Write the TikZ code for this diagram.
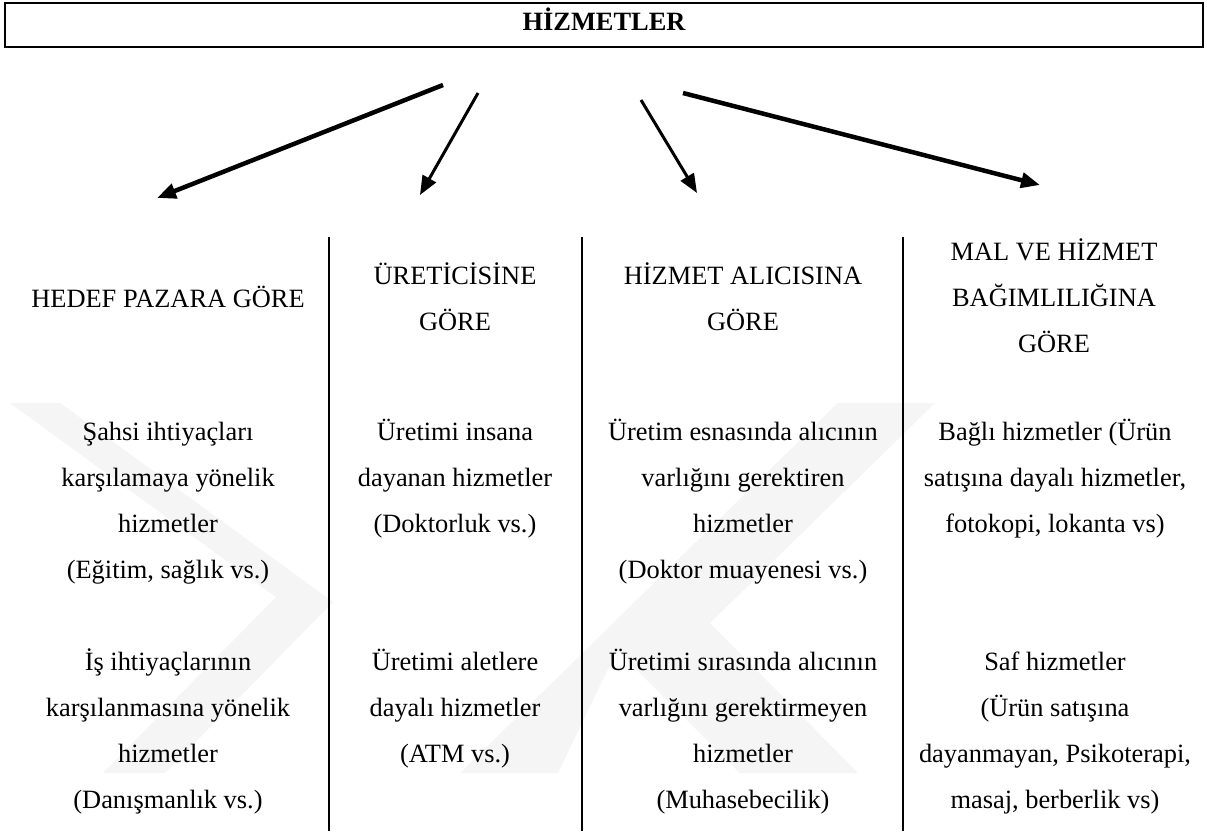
\documentclass[tikz,border=0pt]{standalone}
\usepackage{fontspec}
\setmainfont{Liberation Serif}
\usetikzlibrary{arrows.meta}
\begin{document}
\begin{tikzpicture}[x=1pt,y=-1pt,
  txt/.style={anchor=north,inner sep=0pt,align=center,
    font=\fontsize{26.4}{46}\selectfont},
  titlebox/.style={draw,line width=2.5pt,minimum width=1198pt,minimum height=44pt,
    inner sep=0pt,text height=18pt,text depth=8pt,
    font=\fontsize{26.4}{30}\selectfont\bfseries},
  wm/.style={fill=black!4,draw=none},
  divider/.style={line width=2pt},
  arr/.style={line width=#1,-{Triangle[length=19pt,width=15pt]}},
]
\useasboundingbox (0,0) rectangle (1207,831);
\fill[white] (0,0) rectangle (1207,831);

% faint background emblem
\fill[wm] (10,403) -- (60,403) -- (333,602) -- (165,773) -- (103,773) -- (276,597) -- cycle;
\fill[wm] (838,403) -- (935,403) -- (710,623) -- (858,773) -- (740,773)
  -- (617,650) -- (558,773) -- (460,773) -- cycle;

% title
\node[titlebox] (title) at (604,25) {HİZMETLER};

% arrow end points
\coordinate (s1) at (443,85);  \coordinate (e1) at (157,198);
\coordinate (s2) at (478,93);  \coordinate (e2) at (420,195);
\coordinate (s3) at (641,100); \coordinate (e3) at (697,193);
\coordinate (s4) at (683,93);  \coordinate (e4) at (1040,185);
\draw[arr=4.5pt] (s1) -- (e1);
\draw[arr=3pt] (s2) -- (e2);
\draw[arr=3pt] (s3) -- (e3);
\draw[arr=4.5pt] (s4) -- (e4);

% column separators
\draw[divider] (329,237) -- (329,831);
\draw[divider] (582,237) -- (582,831);
\draw[divider] (903,237) -- (903,831);

% column headings
\node[txt] (h1) at (168,277) {\rule{0pt}{30pt}HEDEF PAZARA GÖRE};
\node[txt] (h2) at (455,254) {\rule{0pt}{30pt}ÜRETİCİSİNE\\GÖRE};
\node[txt] (h3) at (743,254) {\rule{0pt}{30pt}HİZMET ALICISINA\\GÖRE};
\node[txt] (h4) at (1054,230) {\rule{0pt}{30pt}MAL VE HİZMET\\BAĞIMLILIĞINA\\GÖRE};

% column entries
\node[txt] (c1a) at (168,410) {\rule{0pt}{30pt}Şahsi ihtiyaçları\\karşılamaya yönelik\\hizmetler\\(Eğitim, sağlık vs.)};
\node[txt] (c1b) at (168,640) {\rule{0pt}{30pt}İş ihtiyaçlarının\\karşılanmasına yönelik\\hizmetler\\(Danışmanlık vs.)};
\node[txt] (c2a) at (455,410) {\rule{0pt}{30pt}Üretimi insana\\dayanan hizmetler\\(Doktorluk vs.)};
\node[txt] (c2b) at (455,640) {\rule{0pt}{30pt}Üretimi aletlere\\dayalı hizmetler\\(ATM vs.)};
\node[txt] (c3a) at (743,410) {\rule{0pt}{30pt}Üretim esnasında alıcının\\varlığını gerektiren\\hizmetler\\(Doktor muayenesi vs.)};
\node[txt] (c3b) at (743,640) {\rule{0pt}{30pt}Üretimi sırasında alıcının\\varlığını gerektirmeyen\\hizmetler\\(Muhasebecilik)};
\node[txt] (c4a) at (1055,410) {\rule{0pt}{30pt}Bağlı hizmetler (Ürün\\satışına dayalı hizmetler,\\fotokopi, lokanta vs)};
\node[txt] (c4b) at (1055,640) {\rule{0pt}{30pt}Saf hizmetler\\(Ürün satışına\\dayanmayan, Psikoterapi,\\masaj, berberlik vs)};
\end{tikzpicture}
\end{document}
